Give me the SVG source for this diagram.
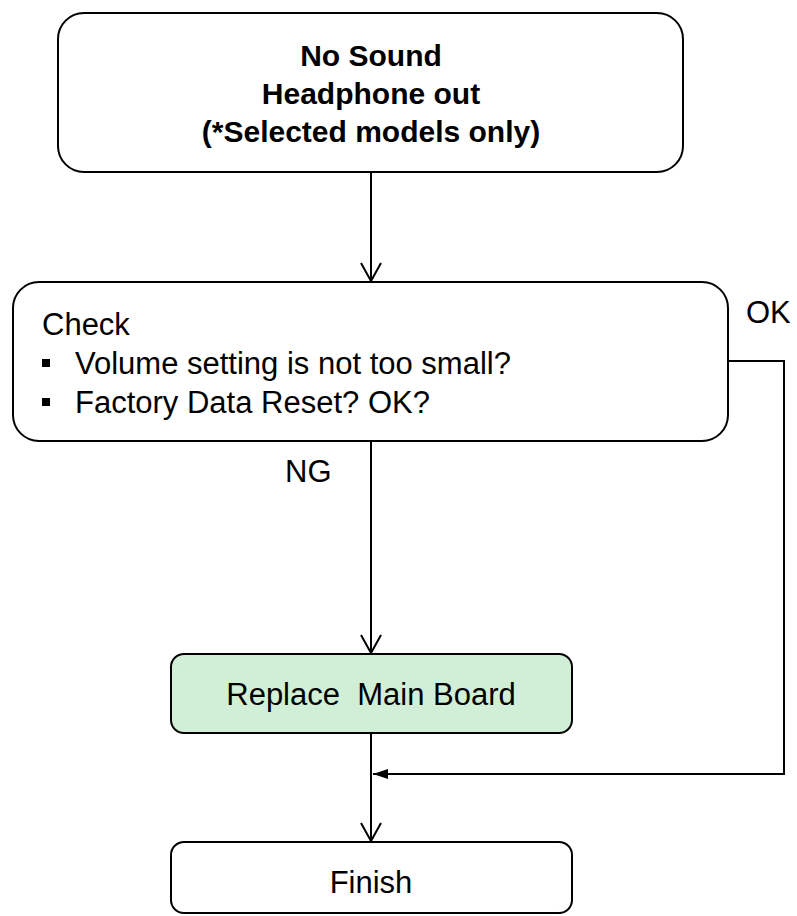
<svg xmlns="http://www.w3.org/2000/svg" width="797" height="916" viewBox="0 0 797 916">
<style>
.box{fill:#fff;stroke:#000;stroke-width:2}
.green{fill:#d1eed6;stroke:#000;stroke-width:2}
.t{font-family:"Liberation Sans",Arial,sans-serif;font-size:31px;fill:#000;white-space:pre}
.b{font-weight:bold;text-anchor:middle;font-size:30px}
.c{text-anchor:middle}
.ln{fill:none;stroke:#000;stroke-width:2}
</style>
<defs>
<marker id="open" markerWidth="22" markerHeight="22" refX="20" refY="11" orient="auto" markerUnits="userSpaceOnUse">
<path d="M2,1 L20,11 L2,21" fill="none" stroke="#000" stroke-width="2"/>
</marker>
<marker id="fill" markerWidth="18" markerHeight="14" refX="16" refY="7" orient="auto" markerUnits="userSpaceOnUse">
<path d="M1,2 L16,7 L1,12 Z" fill="#000"/>
</marker>
</defs>
<g id="start">
<rect class="box" x="58" y="13" width="625" height="159" rx="26"/>
<text class="t b" x="371" y="66">No Sound</text>
<text class="t b" x="371" y="104">Headphone out</text>
<text class="t b" x="371" y="142">(*Selected models only)</text>
</g>
<g id="check">
<rect class="box" x="13" y="282" width="715" height="159" rx="26"/>
<text class="t" x="42" y="335">Check</text>
<rect x="42" y="359" width="8" height="8" fill="#000"/>
<text class="t" x="75" y="374">Volume setting is not too small?</text>
<rect x="42" y="398" width="8" height="8" fill="#000"/>
<text class="t" x="75" y="413">Factory Data Reset? OK?</text>
</g>
<g id="replace">
<rect class="green" x="171" y="654" width="401" height="79" rx="13"/>
<text class="t c" x="371" y="705" xml:space="preserve">Replace  Main Board</text>
</g>
<g id="finish">
<rect class="box" x="171" y="842" width="401" height="71" rx="13"/>
<text class="t c" x="371" y="893">Finish</text>
</g>
<g id="connectors">
<line class="ln" x1="371" y1="172" x2="371" y2="281" marker-end="url(#open)"/>
<line class="ln" x1="371" y1="441" x2="371" y2="653" marker-end="url(#open)"/>
<line class="ln" x1="371" y1="733" x2="371" y2="841" marker-end="url(#open)"/>
<polyline class="ln" points="728,361 784,361 784,774 373,774" marker-end="url(#fill)"/>
<text class="t" x="746" y="323">OK</text>
<text class="t" x="285" y="482">NG</text>
</g>
</svg>
